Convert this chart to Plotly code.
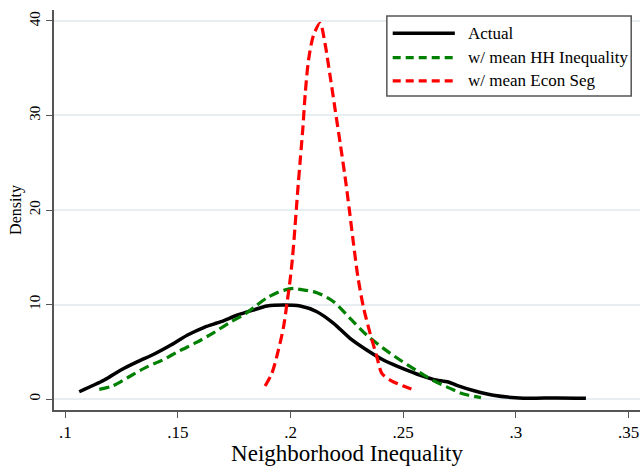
import plotly.graph_objects as go

# Actual distribution
actual_x = [0.1062, 0.1173, 0.1247, 0.1321, 0.1395, 0.1469, 0.1543, 0.1617, 0.1691, 0.1765,
            0.1839, 0.1895, 0.1969, 0.2043, 0.2117, 0.2191, 0.2264, 0.2338, 0.2412, 0.2486,
            0.2560, 0.2634, 0.2700, 0.2738, 0.2811, 0.2900, 0.3033, 0.3181, 0.3311]
actual_y = [0.77, 2.01, 3.07, 3.95, 4.76, 5.71, 6.77, 7.59, 8.18, 8.89,
            9.45, 9.84, 9.95, 9.84, 9.24, 8.01, 6.42, 5.19, 4.13, 3.35,
            2.65, 2.08, 1.80, 1.45, 0.90, 0.39, 0.09, 0.12, 0.08]

# With mean HH inequality
hh_x = [0.1151, 0.1210, 0.1284, 0.1358, 0.1432, 0.1506, 0.1580, 0.1654, 0.1728, 0.1802,
        0.1851, 0.1895, 0.1942, 0.1969, 0.2014, 0.2043, 0.2117, 0.2191, 0.2264, 0.2338,
        0.2412, 0.2486, 0.2560, 0.2634, 0.2708, 0.2750, 0.2790, 0.2845]
hh_y = [1.02, 1.38, 2.36, 3.35, 4.13, 5.08, 5.96, 6.95, 8.07, 9.07,
        9.96, 10.7, 11.27, 11.5, 11.7, 11.6, 11.25, 10.3, 8.54, 6.77,
        5.36, 4.13, 3.0, 1.94, 1.13, 0.67, 0.40, 0.15]

# With mean econ segregation
seg_x = [0.1887, 0.1917, 0.1946, 0.1969, 0.1984, 0.1998, 0.2008, 0.2020, 0.2031, 0.2043,
         0.2055, 0.2065, 0.2080, 0.2102, 0.2131, 0.2153, 0.2176, 0.2198, 0.2220, 0.2242,
         0.2261, 0.2279, 0.2299, 0.2323, 0.2353, 0.2383, 0.2405, 0.2442, 0.2501, 0.2557]
seg_y = [1.38, 2.72, 5.19, 7.65, 10.1, 12.6, 14.8, 18.3, 21.8, 25.3,
         28.8, 32.3, 35.9, 38.5, 39.76, 37.6, 34.1, 30.6, 27.1, 23.5,
         20.0, 16.5, 12.9, 9.77, 6.95, 4.48, 2.72, 2.01, 1.38, 0.88]

x_ticks = [0.1, 0.15, 0.2, 0.25, 0.3, 0.35]
x_tick_labels = [".1", ".15", ".2", ".25", ".3", ".35"]
y_ticks = [0, 10, 20, 30, 40]

names = ["Actual", "w/ mean HH Inequality", "w/ mean Econ Seg"]
colors = ["#000000", "#008000", "#ff0000"]
dashes = ["solid", "10px,5px", "10px,5px"]
widths = [3.5, 3.2, 3.2]

FONT = "Liberation Serif, Times New Roman, serif"

fig = go.Figure()
for xs, ys, n, c, d, w in zip([actual_x, hh_x, seg_x], [actual_y, hh_y, seg_y],
                              names, colors, dashes, widths):
    fig.add_trace(go.Scatter(x=xs, y=ys, mode="lines", name=n, showlegend=False,
                             line=dict(color=c, dash=d, width=w, shape="spline", smoothing=0.8)))

# Legend drawn as a boxed key (paper coordinates)
shapes = [dict(type="rect", xref="paper", yref="paper", x0=0.568, x1=0.985, y0=0.785, y1=0.985,
               line=dict(color="#555555", width=1.5), fillcolor="white", layer="above")]
annotations = []
row_y = [0.942, 0.881, 0.823]
for n, c, d, w, ry in zip(names, colors, dashes, widths, row_y):
    shapes.append(dict(type="line", xref="paper", yref="paper", x0=0.578, x1=0.684, y0=ry, y1=ry,
                       line=dict(color=c, dash=("solid" if d == "solid" else "8px,5px"), width=w),
                       layer="above"))
    annotations.append(dict(xref="paper", yref="paper", x=0.703, y=ry, text=n, showarrow=False,
                            xanchor="left", yanchor="middle",
                            font=dict(family=FONT, size=17, color="black")))

fig.update_layout(
    width=640, height=466,
    margin=dict(l=54, r=0, t=10, b=56),
    paper_bgcolor="white", plot_bgcolor="white",
    font=dict(family=FONT, color="black"),
    shapes=shapes, annotations=annotations,
    xaxis=dict(range=[0.095, 0.3551], tickvals=x_ticks, ticktext=x_tick_labels,
               showgrid=False, zeroline=False, showline=True, linecolor="#555555", linewidth=2,
               ticks="outside", ticklen=6, tickwidth=1, tickcolor="#555555",
               tickfont=dict(family=FONT, size=17, color="black"),
               title=dict(text="Neighborhood Inequality", font=dict(family=FONT, size=23, color="black"),
                          standoff=1),
               automargin=False),
    yaxis=dict(range=[-1.16, 41.16], tickvals=y_ticks, tickangle=-90,
               showgrid=True, gridcolor="#e6eef1", gridwidth=1.5, zeroline=False,
               showline=True, linecolor="#555555", linewidth=2,
               ticks="outside", ticklen=6, tickwidth=1, tickcolor="#555555",
               tickfont=dict(family=FONT, size=15, color="black"),
               title=dict(text="Density", font=dict(family=FONT, size=16, color="black"), standoff=1),
               automargin=False),
)

fig.write_html("out.html", config={"displayModeBar": False},
               post_script="document.body.style.margin='0';document.body.style.overflow='hidden';")
